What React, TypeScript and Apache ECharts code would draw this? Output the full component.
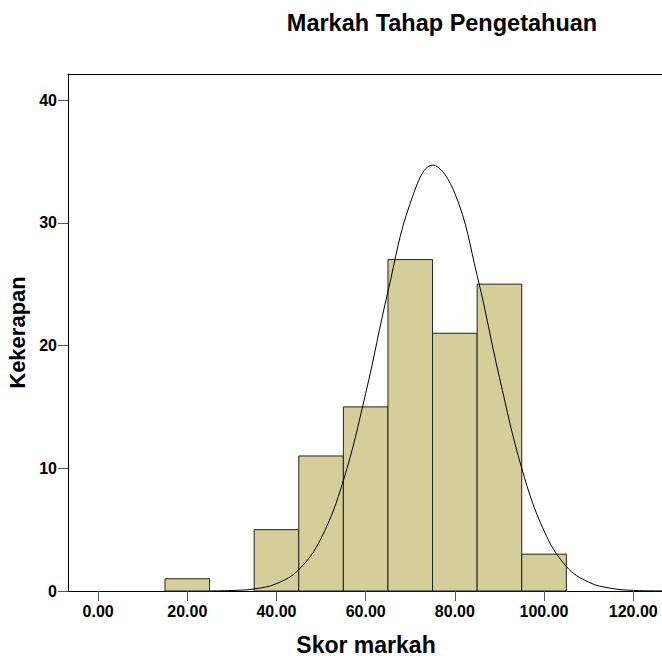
import React, { useEffect, useRef } from "react";
import * as echarts from "echarts";

const binStarts = [15, 35, 45, 55, 65, 75, 85, 95];
const binWidth = 10;
const counts = [1, 5, 11, 15, 27, 21, 25, 3];

const curveX = [25, 30, 35, 40, 45, 50, 55, 60, 65, 70, 75, 80, 85, 90, 95, 100, 105, 110, 115, 120, 125, 130];
const curveY = [0.01, 0.04, 0.17, 0.6, 1.74, 4.3, 9.0, 16.1, 24.4, 31.6, 34.7, 32.4, 25.7, 17.4, 10.0, 4.9, 2.0, 0.72, 0.22, 0.05, 0.01, 0.0];

const xTicks = [0, 20, 40, 60, 80, 100, 120];
const yTicks = [0, 10, 20, 30, 40];

const FONT = "'Liberation Sans', Arial, sans-serif";

export default function App() {
  const ref = useRef<HTMLDivElement>(null);
  useEffect(() => {
    document.body.style.margin = "0";
    if (!ref.current) return;
    const chart = echarts.init(ref.current, null, { renderer: "svg" });
    const barData = binStarts.map((s, i) => [s, s + binWidth, counts[i]]);
    const curveData = curveX.map((x, i) => [x, curveY[i]]);
    chart.setOption({
      animation: false,
      title: {
        text: "Markah Tahap Pengetahuan",
        left: 437,
        top: 6,
        textAlign: "center",
        textStyle: { fontFamily: FONT, fontSize: 23.5, fontWeight: "bold", color: "#000" },
      },
      grid: { left: 68, top: 74, right: -2, bottom: 65, outerBoundsMode: "none", containLabel: false },
      xAxis: [
        {
          type: "value",
          min: -6.75,
          max: 126.9,
          name: "Skor markah",
          nameLocation: "middle",
          nameGap: 42,
          nameTextStyle: { fontFamily: FONT, fontSize: 23, fontWeight: "bold", color: "#000" },
          axisLine: { show: true, onZero: false, lineStyle: { color: "#000", width: 1 } },
          axisTick: { show: true, length: 10, customValues: xTicks, lineStyle: { color: "#555" } },
          axisLabel: {
            customValues: xTicks,
            margin: 12,
            fontFamily: FONT,
            fontSize: 16,
            fontWeight: "bold",
            color: "#000",
            formatter: (v: number) => v.toFixed(2),
          },
          splitLine: { show: false },
        },
        {
          type: "value",
          position: "top",
          min: -6.75,
          max: 126.9,
          axisLine: { show: true, onZero: false, lineStyle: { color: "#000", width: 1 } },
          axisTick: { show: false },
          axisLabel: { show: false },
          splitLine: { show: false },
        },
      ],
      yAxis: {
        type: "value",
        min: 0,
        max: 42.12,
        name: "Kekerapan",
        nameLocation: "middle",
        nameGap: 31,
        nameTextStyle: { fontFamily: FONT, fontSize: 22, fontWeight: "bold", color: "#000" },
        axisLine: { show: true, onZero: false, lineStyle: { color: "#000", width: 1 } },
        axisTick: { show: true, length: 10, customValues: yTicks, lineStyle: { color: "#555" } },
        axisLabel: {
          customValues: yTicks,
          margin: 11,
          fontFamily: FONT,
          fontSize: 16,
          fontWeight: "bold",
          color: "#000",
        },
        splitLine: { show: false },
      },
      series: [
        {
          type: "custom",
          xAxisIndex: 0,
          renderItem: (params: any, api: any) => {
            const x0 = api.value(0);
            const x1 = api.value(1);
            const y = api.value(2);
            const p0 = api.coord([x0, y]);
            const p1 = api.coord([x1, 0]);
            return {
              type: "rect",
              shape: { x: p0[0], y: p0[1], width: p1[0] - p0[0], height: p1[1] - p0[1] },
              style: { fill: "#d3ce9a", stroke: "#222", lineWidth: 1 },
            };
          },
          encode: { x: [0, 1], y: 2 },
          data: barData,
        },
        {
          type: "line",
          xAxisIndex: 0,
          data: curveData,
          smooth: 0.4,
          showSymbol: false,
          symbol: "none",
          lineStyle: { color: "#000", width: 1 },
          z: 5,
        },
      ],
    });
    return () => chart.dispose();
  }, []);
  return <div ref={ref} style={{ width: 662, height: 656 }} />;
}
